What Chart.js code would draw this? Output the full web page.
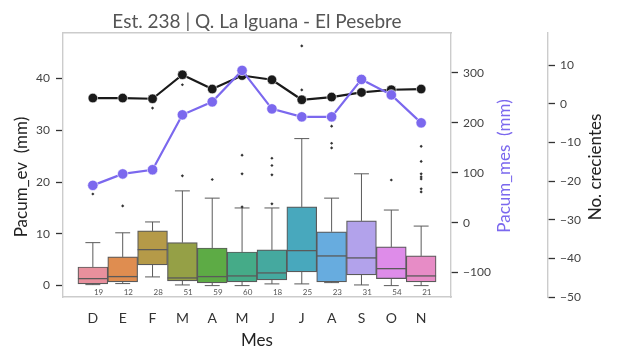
<!DOCTYPE html>
<html>
<head>
<meta charset="utf-8">
<script src="https://cdn.jsdelivr.net/npm/chart.js@4.4.1/dist/chart.umd.min.js"></script>
<style>
  html, body { margin: 0; padding: 0; background: #fff; }
  #wrap { width: 617px; height: 361px; position: relative; }
</style>
</head>
<body>
<div id="wrap"><canvas id="grafica"></canvas></div>
<script>
const months = ["D", "E", "F", "M", "A", "M", "J", "J", "A", "S", "O", "N"];
const counts = [19, 12, 28, 51, 59, 60, 18, 25, 23, 31, 54, 21];

// boxplot de Pacum_ev por mes
const whiskerLow  = [0.19, 0.39, 1.68, 0.13, 0, 0, 0.33, 0.33, 0.58, 0.13, 0, 0];
const q1          = [0.33, 0.71, 4.0, 0.9, 0.51, 0.7, 1.1, 2.64, 0.71, 2.07, 1.35, 0.71];
const median      = [1.35, 1.74, 6.95, 1.48, 1.74, 1.87, 2.45, 6.76, 5.73, 5.35, 3.28, 1.87];
const q3          = [3.6, 5.54, 10.56, 8.3, 7.27, 6.5, 6.9, 15.2, 10.4, 12.5, 7.47, 5.73];
const whiskerHigh = [8.3, 10.2, 12.3, 18.3, 16.9, 15.0, 15.0, 28.4, 16.9, 21.6, 14.6, 11.5];
const outliers = [
  [17.7], [15.4], [34.3], [21.2, 38.8], [20.5], [15.2, 21.6, 25.2],
  [15.8, 21.4, 23.2, 24.6], [37.8, 46.3], [26.6, 27.5, 30.8], [], [20.4],
  [18.1, 18.7, 20.6, 21.0, 21.6, 24.0, 26.9]
];

// lineas
const pacumMes = [74.7, 97.6, 106, 216, 242, 305, 228, 212, 212, 287, 256, 200];
const crecientes = [1.47, 1.47, 1.29, 7.5, 3.8, 7.3, 6.2, 1.03, 1.73, 2.92, 3.62, 3.8];

const boxColors = ["#e8909d", "#df8d50", "#b59a48", "#95a046", "#5dab45", "#45ab88",
                   "#45a99f", "#48a8bd", "#67acdf", "#b2a2eb", "#de8ce9", "#e78cc6"];
const lineGray = "#5a5a5a";
const frame = "#cccccc";
const purple = "#7b68ee";
const font = "Lato";

const minus = v => String(v).replace("-", "\u2212");
const fix = (w, h) => s => { if (w != null) s.width = w; if (h != null) s.height = h; };

const outlierPts = [];
outliers.forEach((arr, i) => arr.forEach(v => outlierPts.push({ x: i, y: v })));

// titulos verticales (todos de abajo hacia arriba, como matplotlib)
const axisTitles = [
  { id: "y",  text: "Pacum_ev  (mm)",  color: "#222", dx: 22, dy: 12 },
  { id: "y1", text: "Pacum_mes  (mm)", color: purple, dx: 54, dy: 1 },
  { id: "y2", text: "No. crecientes",  color: "#222", dx: 48, dy: 2 }
];

const boxPlugin = {
  id: "boxes",
  afterDatasetDraw(chart, args) {
    if (args.index !== 0) return;
    const ctx = chart.ctx;
    const xs = chart.scales.x, ys = chart.scales.y;
    const cap = (xs.getPixelForValue(1) - xs.getPixelForValue(0)) / 4;
    const half = cap * 2;
    ctx.save();
    ctx.strokeStyle = lineGray;
    ctx.lineWidth = 1;
    months.forEach((m, i) => {
      const cx = xs.getPixelForValue(i);
      const p = v => ys.getPixelForValue(v);
      ctx.beginPath();
      ctx.moveTo(cx, p(q1[i])); ctx.lineTo(cx, p(whiskerLow[i]));
      ctx.moveTo(cx, p(q3[i])); ctx.lineTo(cx, p(whiskerHigh[i]));
      ctx.moveTo(cx - cap, p(whiskerLow[i])); ctx.lineTo(cx + cap, p(whiskerLow[i]));
      ctx.moveTo(cx - cap, p(whiskerHigh[i])); ctx.lineTo(cx + cap, p(whiskerHigh[i]));
      ctx.stroke();
      ctx.beginPath();
      ctx.lineWidth = 1.3;
      ctx.moveTo(cx - half, p(median[i])); ctx.lineTo(cx + half, p(median[i]));
      ctx.stroke();
      ctx.lineWidth = 1;
    });
    ctx.restore();
  },
  afterDatasetsDraw(chart) {
    const ctx = chart.ctx;
    const xs = chart.scales.x, ys = chart.scales.y;
    ctx.save();
    ctx.fillStyle = "#555";
    ctx.font = "8px " + font;
    ctx.textAlign = "center";
    ctx.textBaseline = "middle";
    counts.forEach((n, i) => {
      ctx.fillText(String(n), xs.getPixelForValue(i + 0.19), ys.getPixelForValue(-1.35));
    });
    ctx.restore();
  },
  afterDraw(chart) {
    const ctx = chart.ctx;
    ctx.save();
    ctx.font = "17px " + font;
    ctx.textAlign = "center";
    ctx.textBaseline = "middle";
    axisTitles.forEach(t => {
      const s = chart.scales[t.id];
      ctx.save();
      ctx.translate(s.left + t.dx, (s.top + s.bottom) / 2 + t.dy);
      ctx.rotate(-Math.PI / 2);
      ctx.fillStyle = t.color;
      ctx.fillText(t.text, 0, 0);
      ctx.restore();
    });
    ctx.restore();
  }
};

const tickGrid = { drawOnChartArea: false, drawTicks: true, tickLength: 7, tickColor: "#333", tickWidth: 1.3 };

new Chart(document.getElementById("grafica"), {
  type: "bar",
  data: {
    datasets: [
      {
        type: "bar",
        data: months.map((m, i) => ({ x: i, y: [q1[i], q3[i]] })),
        backgroundColor: boxColors,
        borderColor: lineGray,
        borderWidth: 1.2,
        borderSkipped: false,
        barPercentage: 1,
        categoryPercentage: 1,
        xAxisID: "x", yAxisID: "y",
        order: 3
      },
      {
        type: "line",
        data: outlierPts,
        showLine: false,
        pointStyle: "rectRot",
        pointRadius: 1.6,
        backgroundColor: "#333",
        borderColor: "#333",
        borderWidth: 0,
        xAxisID: "x", yAxisID: "y",
        order: 2
      },
      {
        type: "line",
        data: crecientes.map((v, i) => ({ x: i, y: v })),
        borderColor: "#1a1a1a",
        backgroundColor: "#1a1a1a",
        borderWidth: 2.2,
        pointRadius: 4.8,
        pointBorderColor: "#fff",
        pointBorderWidth: 0.6,
        xAxisID: "x", yAxisID: "y2",
        order: 1
      },
      {
        type: "line",
        data: pacumMes.map((v, i) => ({ x: i, y: v })),
        borderColor: purple,
        backgroundColor: purple,
        borderWidth: 2.2,
        pointRadius: 5.2,
        pointBorderColor: "#fff",
        pointBorderWidth: 0.6,
        xAxisID: "x", yAxisID: "y1",
        order: 0
      }
    ]
  },
  options: {
    responsive: true,
    maintainAspectRatio: false,
    animation: false,
    layout: { padding: 0 },
    plugins: { legend: { display: false }, tooltip: { enabled: false } },
    scales: {
      x: {
        type: "linear", position: "bottom", min: -1, max: 12, offset: false,
        afterFit: fix(null, 64),
        afterBuildTicks: s => { s.ticks = months.map((m, i) => ({ value: i })); },
        grid: { display: false, drawTicks: false },
        border: { display: true, color: frame, width: 1.4 },
        ticks: { padding: 13, color: "#333", font: { family: font, size: 14 }, callback: v => months[v] ?? "" },
        title: { display: true, text: "Mes", color: "#222", padding: { top: 0, bottom: 12 }, font: { family: font, size: 17, lineHeight: 1 } }
      },
      xTop: {
        type: "linear", axis: "x", position: "top", min: -1, max: 12,
        afterFit: fix(null, 33),
        grid: { display: false },
        border: { display: true, color: frame, width: 1.4 },
        ticks: { display: false },
        title: { display: true, text: "Est. 238 | Q. La Iguana - El Pesebre", color: "#555", padding: { top: 12, bottom: 0 }, font: { family: font, size: 19, lineHeight: 1 } }
      },
      y: {
        type: "linear", position: "left", min: -2.2, max: 48.8,
        afterFit: fix(63, null),
        grid: tickGrid,
        border: { display: true, color: frame, width: 1.4 },
        ticks: { stepSize: 10, includeBounds: false, padding: 6, color: "#444", font: { family: font, size: 12 }, callback: minus }
      },
      y1: {
        type: "linear", position: "right", min: -149, max: 380, weight: 0,
        afterFit: fix(97, null),
        grid: tickGrid,
        border: { display: true, color: frame, width: 1.4 },
        ticks: { stepSize: 100, includeBounds: false, padding: 5, color: "#444", font: { family: font, size: 12 }, callback: minus }
      },
      y2: {
        type: "linear", position: "right", min: -50, max: 18.3, weight: 1,
        afterFit: fix(69, null),
        grid: tickGrid,
        border: { display: true, color: frame, width: 1.4 },
        ticks: { stepSize: 10, includeBounds: false, padding: 5, color: "#444", font: { family: font, size: 12 }, callback: minus }
      }
    }
  },
  plugins: [boxPlugin]
});
</script>
</body>
</html>
